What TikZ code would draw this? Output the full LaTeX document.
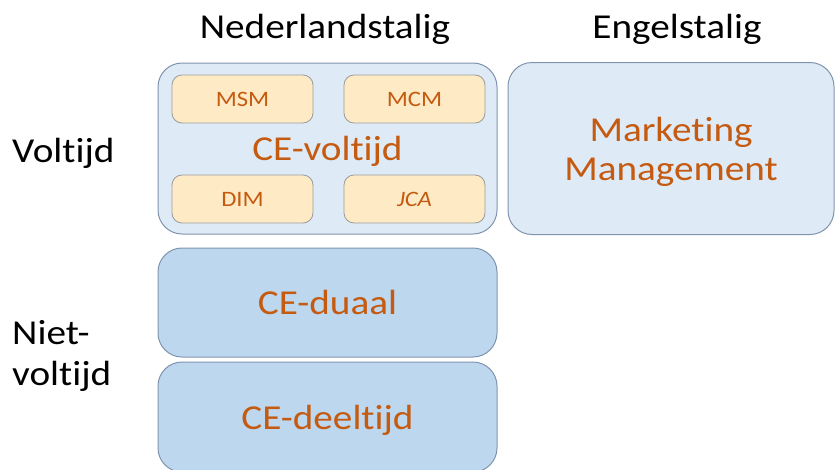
\documentclass[tikz,border=0pt]{standalone}
\usepackage{fontspec}
\setmainfont[FakeStretch=1.12, Ligatures=NoCommon]{Carlito}
\usepackage{xcolor}
\usepackage{tikz}
\usetikzlibrary{positioning}

\definecolor{paleblue}{HTML}{DEEBF7}
\definecolor{midblue}{HTML}{BDD7EE}
\definecolor{paleyellow}{HTML}{FEEBC6}
\definecolor{edgeblue}{HTML}{8194AE}
\definecolor{edgegray}{HTML}{9A9A9A}
\definecolor{textorange}{HTML}{C55A11}

\begin{document}
\begin{tikzpicture}[x=1pt, y=-1pt,
        header/.style={inner sep=0pt, font=\fontsize{35}{41}\selectfont},
        bigbox/.style={draw=edgeblue, line width=1pt, rounded corners=24pt, outer sep=0pt, inner sep=0pt,
            text=textorange, align=center, text depth=0pt, font=\fontsize{35}{39}\selectfont},
        subbox/.style={draw=edgegray, line width=0.8pt, rounded corners=10pt, fill=paleyellow, outer sep=0pt,
            minimum width=141pt, minimum height=48pt, text=textorange, font=\fontsize{22}{26}\selectfont}
    ]
        \useasboundingbox (0,0) rectangle (836,469);

        % Nodes
            \node[bigbox, fill=paleblue, minimum width=339pt, minimum height=171pt] (voltijdbox) at (327.5,148.5) {CE-voltijd};
            \node[bigbox, fill=paleblue, minimum width=326pt, minimum height=172pt, right=11pt of voltijdbox] (marketing) {Marketing\\Management};
            \node[bigbox, fill=midblue, minimum width=339pt, minimum height=109pt, below=14pt of voltijdbox] (duaal) {CE-duaal};
            \node[bigbox, fill=midblue, minimum width=339pt, minimum height=110pt, below=5pt of duaal] (deeltijd) {CE-deeltijd};

            % Specialisaties
            \node[subbox, below right=12pt and 14pt of voltijdbox.north west] (msm) {MSM};
            \node[subbox, below left=12pt and 12pt of voltijdbox.north east] (mcm) {MCM};
            \node[subbox, above right=11pt and 14pt of voltijdbox.south west] (dim) {DIM};
            \node[subbox, above left=11pt and 12pt of voltijdbox.south east] (jca) {\itshape JCA};

            % Koppen
            \node[header, anchor=base] (nl) at (325,38) {Nederlandstalig};
            \node[header, anchor=base] (en) at (677,38) {Engelstalig};
            \node[header, anchor=base west] (vt) at (12,162) {Voltijd};
            \node[header, anchor=north west, align=left] (nvt) at (12,320) {Niet-\\voltijd};
    \end{tikzpicture}
\end{document}
